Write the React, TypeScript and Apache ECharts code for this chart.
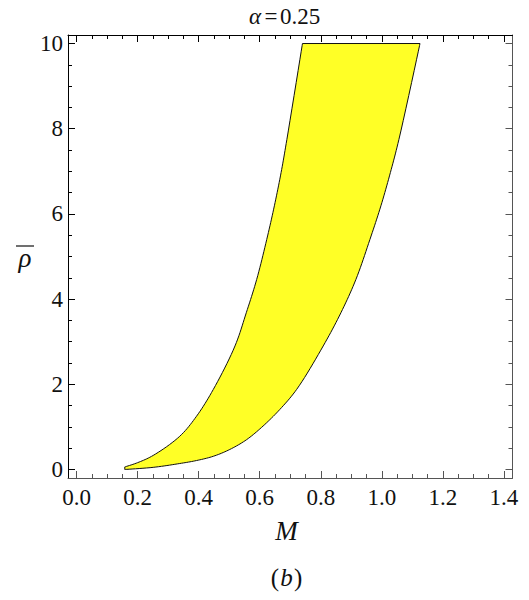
import React, { useEffect, useRef } from "react";
import * as echarts from "echarts";

// Upper boundary curve (M, rho-bar), from the tip up to rho = 10
const upperM = [0.158, 0.2, 0.251, 0.338, 0.393, 0.448, 0.519, 0.556, 0.59, 0.623, 0.648, 0.67, 0.689, 0.74];
const upperRho = [0.06, 0.16, 0.33, 0.78, 1.25, 1.88, 2.9, 3.68, 4.46, 5.4, 6.19, 6.97, 7.75, 10];
// Lower boundary curve (M, rho-bar), from the tip up to rho = 10
const lowerM = [0.158, 0.251, 0.338, 0.393, 0.448, 0.502, 0.557, 0.611, 0.666, 0.721, 0.808, 0.866, 0.915, 0.961, 0.997, 1.028, 1.056, 1.125];
const lowerRho = [0.0, 0.05, 0.14, 0.21, 0.31, 0.47, 0.7, 1.02, 1.41, 1.88, 2.9, 3.68, 4.46, 5.4, 6.19, 6.97, 7.75, 10];

const xMajor = [0, 0.2, 0.4, 0.6, 0.8, 1.0, 1.2, 1.4];
const xMinor = [0.05, 0.1, 0.15, 0.25, 0.3, 0.35, 0.45, 0.5, 0.55, 0.65, 0.7, 0.75, 0.85, 0.9, 0.95, 1.05, 1.1, 1.15, 1.25, 1.3, 1.35];
const yMajor = [0, 2, 4, 6, 8, 10];
const yMinor = [0.5, 1, 1.5, 2.5, 3, 3.5, 4.5, 5, 5.5, 6.5, 7, 7.5, 8.5, 9, 9.5];

const titleValue = "0.25";
const FONT = "Liberation Serif";

// centripetal Catmull-Rom sampling in pixel space (rendering only)
function smoothPath(p: number[][], steps = 10): number[][] {
  const out: number[][] = [];
  const n = p.length;
  for (let i = 0; i < n - 1; i++) {
    const p0 = p[Math.max(i - 1, 0)];
    const p1 = p[i];
    const p2 = p[i + 1];
    const p3 = p[Math.min(i + 2, n - 1)];
    const d = (a: number[], b: number[]) => Math.max(Math.sqrt(Math.hypot(b[0] - a[0], b[1] - a[1])), 1e-4);
    const t0 = 0;
    const t1 = t0 + d(p0, p1);
    const t2 = t1 + d(p1, p2);
    const t3 = t2 + d(p2, p3);
    for (let s = 0; s < steps; s++) {
      const t = t1 + ((t2 - t1) * s) / steps;
      const lerp = (a: number[], b: number[], ta: number, tb: number) => {
        if (tb - ta < 1e-6) return a;
        const w = (t - ta) / (tb - ta);
        return [a[0] + (b[0] - a[0]) * w, a[1] + (b[1] - a[1]) * w];
      };
      const a1 = lerp(p0, p1, t0, t1);
      const a2 = lerp(p1, p2, t1, t2);
      const a3 = lerp(p2, p3, t2, t3);
      const b1 = lerp(a1, a2, t0, t2);
      const b2 = lerp(a2, a3, t1, t3);
      out.push(lerp(b1, b2, t1, t2));
    }
  }
  out.push(p[n - 1]);
  return out;
}

export default function App() {
  const ref = useRef<HTMLDivElement>(null);
  useEffect(() => {
    if (!ref.current) return;
    const chart = echarts.init(ref.current, undefined, { renderer: "svg" });
    const xRange = { min: -0.028, max: 1.428 };
    const yRange = { min: -0.2, max: 10.2 };
    const frameDark = "#000";
    const frameGray = "#555";
    const mkX = (pos: string, vals: number[], len: number, labels: boolean, color: string, showLine: boolean) => ({
      type: "value",
      position: pos,
      ...xRange,
      axisLine: { show: showLine, onZero: false, lineStyle: { color, width: 1 } },
      axisTick: { show: true, inside: true, length: len, customValues: vals, lineStyle: { color, width: 1 } },
      axisLabel: labels
        ? {
            show: true,
            customValues: vals,
            formatter: (v: number) => v.toFixed(1),
            fontFamily: FONT,
            fontSize: 23,
            color: "#111",
            margin: 8,
          }
        : { show: false },
      splitLine: { show: false },
      minorTick: { show: false },
    });
    const mkY = (pos: string, vals: number[], len: number, labels: boolean, color: string, showLine: boolean) => ({
      type: "value",
      position: pos,
      ...yRange,
      axisLine: { show: showLine, onZero: false, lineStyle: { color, width: 1 } },
      axisTick: { show: true, inside: true, length: len, customValues: vals, lineStyle: { color, width: 1 } },
      axisLabel: labels
        ? {
            show: true,
            customValues: vals,
            formatter: (v: number) => String(v),
            fontFamily: FONT,
            fontSize: 23,
            color: "#111",
            margin: 5,
          }
        : { show: false },
      splitLine: { show: false },
      minorTick: { show: false },
    });
    const txt = (text: string, x: number, y: number, size: number, italic: boolean, align = "center") => ({
      type: "text",
      x,
      y,
      style: {
        text,
        fontFamily: FONT,
        fontSize: size,
        fontStyle: italic ? "italic" : "normal",
        fill: "#111",
        align,
        verticalAlign: "middle",
      },
    });
    chart.setOption({
      animation: false,
      grid: { left: 68, top: 35, width: 444.5, height: 443, containLabel: false },
      xAxis: [
        mkX("bottom", xMajor, 7, true, frameGray, true),
        mkX("bottom", xMinor, 4, false, frameGray, false),
        mkX("top", xMajor, 7, false, frameDark, true),
        mkX("top", xMinor, 4, false, frameDark, false),
      ],
      yAxis: [
        mkY("left", yMajor, 7, true, frameDark, true),
        mkY("left", yMinor, 4, false, frameDark, false),
        mkY("right", yMajor, 7, false, frameGray, true),
        mkY("right", yMinor, 4, false, frameGray, false),
      ],
      series: [
        {
          type: "custom",
          xAxisIndex: 0,
          yAxisIndex: 0,
          data: [[0, 0]],
          renderItem: (_params: any, api: any) => {
            const up: number[][] = upperM.map((m, i) => api.coord([m, upperRho[i]]));
            const lo: number[][] = lowerM.map((m, i) => api.coord([m, lowerRho[i]]));
            const su = smoothPath(up);
            const sl = smoothPath(lo).reverse();
            const pts = su.concat(sl);
            return {
              type: "polygon",
              shape: { points: pts },
              style: { fill: "#ffff26", stroke: "#111", lineWidth: 1, lineJoin: "miter" },
            };
          },
        },
      ],
      graphic: [
        txt("α", 249, 16, 23, true, "left"),
        txt("=", 271, 16, 23, false, "center"),
        txt(titleValue, 280, 16, 23, false, "left"),
        txt("ρ", 25, 258, 27, true),
        {
          type: "line",
          shape: { x1: 16, y1: 246, x2: 34, y2: 246 },
          style: { stroke: "#111", lineWidth: 1.2 },
        },
        txt("M", 286.5, 531, 27, true),
        txt("(", 279, 577, 25, false, "right"),
        txt("b", 286.5, 577, 25, true),
        txt(")", 294, 577, 25, false, "left"),
      ],
    });
    return () => chart.dispose();
  }, []);
  return <div ref={ref} style={{ width: 529, height: 600, position: "absolute", left: 0, top: 0 }} />;
}
